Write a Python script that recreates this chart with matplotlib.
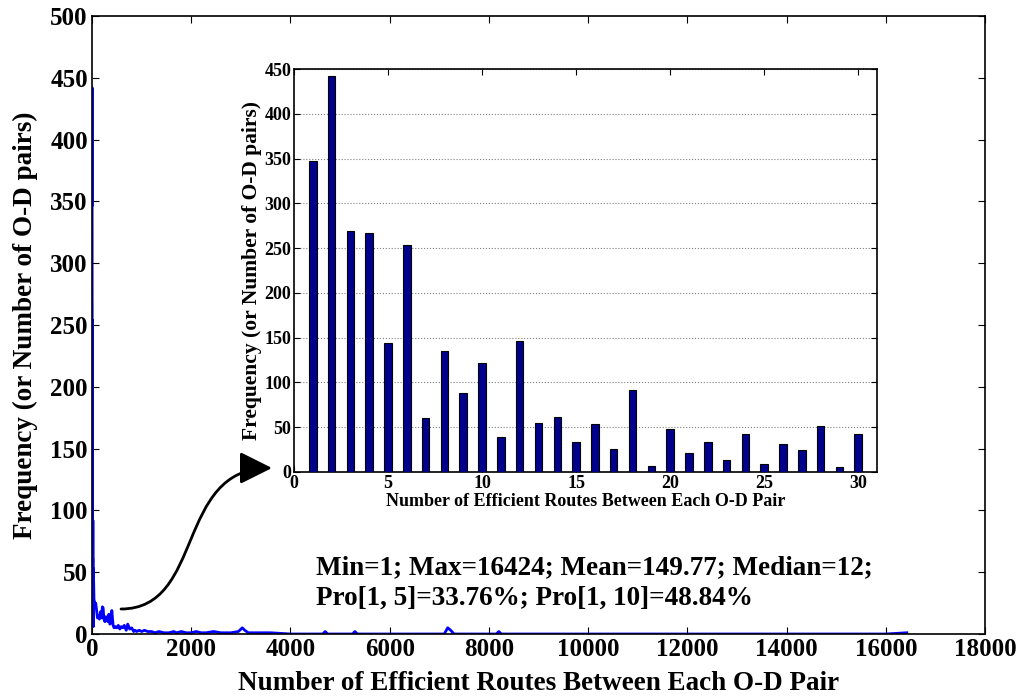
import matplotlib
matplotlib.use("Agg")
import matplotlib.pyplot as plt
from matplotlib.path import Path
from matplotlib.patches import FancyArrowPatch

plt.rcParams['font.family'] = ['Liberation Serif', 'DejaVu Serif']
plt.rcParams['font.weight'] = 'bold'

# ---- data ----
inset_routes = list(range(1, 31))
inset_counts = [347, 442, 269, 267, 144, 254, 60, 135, 88, 122,
                39, 146, 55, 61, 34, 54, 26, 92, 7, 48,
                21, 34, 13, 42, 9, 31, 25, 51, 6, 42]

tail_x = [32, 40, 50, 60, 75, 90, 110, 130, 150, 170,
          190, 210, 225, 240, 260, 280, 300, 320, 340, 360,
          380, 400, 425, 445, 470, 500, 530, 560, 590, 620,
          650, 690, 720, 760, 800, 840, 870, 900, 950, 1000,
          1060, 1120, 1200, 1270, 1350, 1450, 1550, 1650, 1700, 1800,
          1900, 2000, 2100, 2200, 2300, 2450, 2600, 2800, 2950, 3030,
          3080, 3150, 3300, 3600, 4000, 4650, 4700, 4750, 5250, 5300,
          5350, 6000, 7100, 7170, 7230, 7300, 8150, 8200, 8250, 9000,
          12000, 16000, 16424]
tail_y = [45, 28, 26, 22, 25, 20, 13, 15, 12, 18,
          13, 22, 21, 12, 10, 14, 11, 10, 16, 8,
          9, 19, 7, 5, 6, 5, 7, 4, 6, 5,
          7, 3, 8, 4, 5, 2, 3, 2, 3, 2,
          3, 2, 2, 1, 2, 1, 1, 2, 1, 2,
          1, 1, 2, 1, 1, 2, 1, 1, 2, 5,
          3, 1, 1, 1, 0, 0, 2, 0, 0, 2,
          0, 0, 0, 5, 3, 0, 0, 2, 0, 0,
          0, 0, 1]

main_x = inset_routes + tail_x
main_y = inset_counts + tail_y

main_xticks = list(range(0, 18001, 2000))
main_yticks = list(range(0, 501, 50))
inset_xticks = list(range(0, 31, 5))
inset_yticks = list(range(0, 451, 50))

xlabel = "Number of Efficient Routes Between Each O-D Pair"
ylabel = "Frequency (or Number of O-D pairs)"
stats_text = "Min=1; Max=16424; Mean=149.77; Median=12;\nPro[1, 5]=33.76%; Pro[1, 10]=48.84%"

W, H = 1021, 698
fig = plt.figure(figsize=(W / 100, H / 100), dpi=100)

def box(l, r, t, b):
    return [l / W, 1 - b / H, (r - l) / W, (b - t) / H]

# ---- main axes ----
ax = fig.add_axes(box(92, 985, 16, 634))
ax.plot(main_x, main_y, color=(0, 0, 1), lw=2)
ax.set_xlim(0, 18000)
ax.set_ylim(0, 500)
ax.set_xticks(main_xticks)
ax.set_yticks(main_yticks)
ax.tick_params(direction='in', top=True, right=True, length=5, labelsize=18, pad=3)
for lab in ax.get_xticklabels() + ax.get_yticklabels():
    lab.set_fontweight('bold')
ax.set_xlabel(xlabel, fontsize=19.5, fontweight='bold', labelpad=7)
ax.set_ylabel(ylabel, fontsize=19.5, fontweight='bold', labelpad=9)
for s in ax.spines.values():
    s.set_linewidth(1.2)

ax.text(316 / W, 1 - 583 / H, stats_text, transform=fig.transFigure,
        fontsize=19.5, fontweight='bold', va='center', ha='left', linespacing=1.3)

# ---- inset ----
ai = fig.add_axes(box(294, 877, 69, 472))
ai.bar(inset_routes, inset_counts, width=0.4, color=(0, 0, 0.55), edgecolor='black', linewidth=0.8, zorder=3)
ai.set_xlim(0, 31)
ai.set_ylim(0, 450)
ai.set_xticks(inset_xticks)
ai.set_yticks(inset_yticks)
ai.yaxis.grid(True, linestyle=':', color='gray', linewidth=0.8, zorder=0)
ai.set_axisbelow(True)
ai.tick_params(direction='in', top=True, right=True, length=4, labelsize=13, pad=2)
for lab in ai.get_xticklabels() + ai.get_yticklabels():
    lab.set_fontweight('bold')
ai.set_xlabel(xlabel, fontsize=13, fontweight='bold', labelpad=1)
ai.set_ylabel(ylabel, fontsize=15.5, fontweight='bold', labelpad=2)
for s in ai.spines.values():
    s.set_linewidth(1.2)

# ---- curved arrow ----
def fp(x, y):
    return (x / W, 1 - y / H)

verts = [fp(121, 609), fp(205, 609), fp(175, 468), fp(272, 468)]
codes = [Path.MOVETO, Path.CURVE4, Path.CURVE4, Path.CURVE4]
arrow = FancyArrowPatch(path=Path(verts, codes), transform=fig.transFigure,
                        arrowstyle='-|>,head_length=0.9,head_width=0.45',
                        mutation_scale=22, color='black', lw=2)
fig.patches.append(arrow)

fig.savefig("out.png", dpi=100)
